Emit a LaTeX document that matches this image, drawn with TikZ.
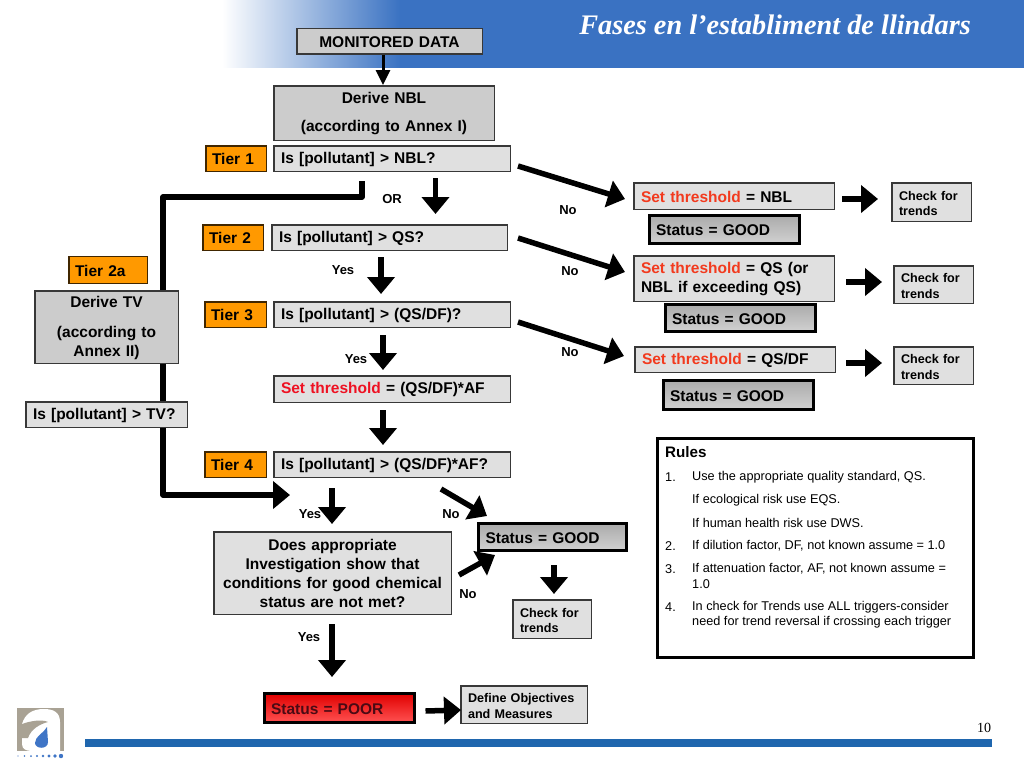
\documentclass[tikz,border=0pt]{standalone}
\usepackage{fontspec}
\setmainfont{Liberation Sans}
\newfontfamily\titlefont{Liberation Serif}
\usetikzlibrary{arrows.meta,backgrounds}
\definecolor{bandblue}{HTML}{3A72C2}
\definecolor{bandmid}{HTML}{6A94D4}
\definecolor{barblue}{HTML}{1F66AE}
\definecolor{boxedge}{HTML}{383838}
\definecolor{lightbox}{HTML}{E0E0E0}
\definecolor{midbox}{HTML}{CCCCCC}
\definecolor{tierorange}{HTML}{FF9900}
\definecolor{setred}{HTML}{F23A1E}
\definecolor{setredb}{HTML}{EE1122}
\definecolor{poortext}{HTML}{4A0A14}
\definecolor{logogrey}{HTML}{A9A294}
\definecolor{logoblue}{HTML}{3F75C6}
\newcommand{\qfont}{\fontsize{15.5}{19}\selectfont\bfseries}
\newcommand{\sfont}{\fontsize{12.6}{15.5}\selectfont\bfseries}
\tikzset{
  bx/.style 2 args={draw=boxedge,line width=1.5pt,fill=lightbox,minimum width=#1-1.5pt,minimum height=#2-1.5pt,
    text width=#1-16pt,inner xsep=7pt,inner ysep=0pt,align=left,font=\qfont,
    execute at begin node={\rule{0pt}{12.5pt}}},
  greybx/.style 2 args={bx={#1}{#2},fill=midbox,align=center},
  tierbx/.style={bx={#1}{27pt},fill=tierorange,draw=black!75!tierorange,text width=#1-14pt,inner xsep=6pt},
  checkbx/.style 2 args={bx={#1}{#2},font=\sfont},
  goodbx/.style 2 args={bx={#1}{#2},draw=black,line width=3pt,minimum width=#1-3pt,minimum height=#2-3pt,
    top color=black!33,bottom color=black!18},
  poorbx/.style 2 args={bx={#1}{#2},draw=black,line width=3pt,minimum width=#1-3pt,minimum height=#2-3pt,
    top color=red!88!black,bottom color=red!68!white},
  tag/.style={font=\fontsize{13}{15}\selectfont\bfseries,inner sep=0pt},
  bigarrow/.style={line width=5.5pt,-{Triangle[length=17pt,width=27pt]}},
  thinarrow/.style={line width=3pt,-{Triangle[length=15pt,width=14pt]}},
}
\begin{document}
\begin{tikzpicture}[x=1pt,y=-1pt]
  \useasboundingbox (0,0) rectangle (1024,768);
  % header band
  \shade[left color=white,middle color=bandmid,right color=bandblue] (222,0) rectangle (400,67.5);
  \fill[bandblue] (399.5,0) rectangle (1024,68);
  \node (title) at (775,25) [text=white,inner sep=0pt,font=\titlefont\fontsize{28.3}{32}\selectfont\bfseries\itshape] {Fases en l’establiment de llindars};
  % left column of boxes
  \node (mondata) at (389.5,41.5) [greybx={187pt}{27pt}] {MONITORED DATA};
  \node (nbl) at (384,113) [greybx={222pt}{56pt}] {Derive NBL\\[9pt](according to Annex I)};
  \node (tiera) at (236,158.5) [tierbx=62pt] {Tier 1};
  \node (qnbl) at (392,158.5) [bx={238pt}{27pt}] {Is [pollutant] > NBL?};
  \node (tierb) at (233,237.5) [tierbx=62pt] {Tier 2};
  \node (qqs) at (389.5,237.5) [bx={237pt}{27pt}] {Is [pollutant] > QS?};
  \node (tierc) at (235.5,314.5) [tierbx=63pt] {Tier 3};
  \node (qdf) at (392,314.5) [bx={238pt}{27pt}] {Is [pollutant] > (QS/DF)?};
  \node (sthr) at (392,389) [bx={238pt}{28pt}] {\textcolor{setredb}{Set threshold} = (QS/DF)*AF};
  \node (tierd) at (235.5,464.5) [tierbx=63pt] {Tier 4};
  \node (qaf) at (392,464.5) [bx={238pt}{27pt}] {Is [pollutant] > (QS/DF)*AF?};
  \node (tierx) at (108,270) [tierbx=80pt,minimum height=27pt] {Tier 2a};
  \node (tv) at (106.5,327) [greybx={145pt}{74pt}] {Derive TV\\[11pt](according to\\Annex II)};
  \node (qtv) at (106.5,414.5) [bx={163pt}{27pt}] {Is [pollutant] > TV?};
  \node (invest) at (332.5,573) [bx={239pt}{84pt},align=center] {Does appropriate\\Investigation show that\\conditions for good chemical\\status are not met?};
  \node (poor) at (339,708) [poorbx={152pt}{32pt}] {\textcolor{poortext}{Status = POOR}};
  \node (defobj) at (524,704.5) [checkbx={128pt}{39pt}] {Define Objectives\\and Measures};
  \node (goodt) at (552.5,537) [goodbx={150pt}{30pt}] {Status = GOOD};
  \node (chkt) at (552,619) [checkbx={80pt}{40pt}] {Check for\\trends};
  % right column of boxes
  \node (setn) at (734,196) [bx={202pt}{28pt}] {\textcolor{setred}{Set threshold} = NBL};
  \node (goodn) at (724,229.5) [goodbx={152pt}{31pt}] {Status = GOOD};
  \node (chkn) at (931.5,202) [checkbx={81pt}{40pt}] {Check for\\trends};
  \node (setq) at (734,278.5) [bx={202pt}{47pt}] {\textcolor{setred}{Set threshold} = QS (or\\NBL if exceeding QS)};
  \node (goodq) at (740,318) [goodbx={152pt}{30pt}] {Status = GOOD};
  \node (chkq) at (933.5,284.5) [checkbx={81pt}{39pt}] {Check for\\trends};
  \node (setd) at (735,359.5) [bx={202pt}{27pt}] {\textcolor{setred}{Set threshold} = QS/DF};
  \node (goodd) at (738,395) [goodbx={152pt}{32pt}] {Status = GOOD};
  \node (chkd) at (933.5,365.5) [checkbx={81pt}{39pt}] {Check for\\trends};
  % labels on the arrows
  \node (ortag) at (392,199) [tag] {OR};
  \node (yesa) at (343,270) [tag] {Yes};
  \node (yesb) at (356,359) [tag] {Yes};
  \node (yesc) at (310,514) [tag] {Yes};
  \node (yesd) at (309,637) [tag] {Yes};
  \node (noa) at (568,210) [tag] {No};
  \node (nob) at (570,271) [tag] {No};
  \node (noc) at (570,352) [tag] {No};
  \node (nod) at (451,514) [tag] {No};
  \node (noe) at (468,594) [tag] {No};
  % rules panel
  \node (rules) at (815.5,548) [draw=black,line width=3pt,fill=white,minimum width=316pt,minimum height=219pt] {};
  \node (ruleshead) at (665,452) [anchor=west,inner sep=0pt,font=\fontsize{15.2}{17}\selectfont\bfseries] {Rules};
  \foreach \ry/\rnum/\rtxt in {477/1./{Use the appropriate quality standard, QS.},
      500//{If ecological risk use EQS.},
      523//{If human health risk use DWS.},
      546/2./{If dilution factor, DF, not known assume = 1.0},
      569/3./{If attenuation factor, AF, not known assume =},
      584//{1.0},
      607/4./{In check for Trends use ALL triggers-consider},
      622//{need for trend reversal if crossing each trigger}} {
    \node (rnum-\ry) at (665,\ry) [anchor=west,inner sep=0pt,font=\fontsize{12.7}{14}\selectfont] {\rnum};
    \node (rtxt-\ry) at (692,\ry) [anchor=west,inner sep=0pt,font=\fontsize{12.7}{14}\selectfont] {\rtxt};
  }
  % free ends of the long line
  \coordinate (bendtop) at (163,197);
  \coordinate (joinfree) at (290,495);
  \begin{scope}[on background layer]
    \draw[bigarrow,line join=round] ([shift={(-30,9)}]qnbl.south) |- (bendtop) |- (joinfree);
  \end{scope}
  \path[thinarrow] ([xshift=-6.5pt]mondata.south) edge ([xshift=-1pt]nbl.north);
  \path[bigarrow]
    ([shift={(43.5,6)}]qnbl.south) edge ([shift={(46,-10)}]qqs.north)
    ([shift={(-8.5,6)}]qqs.south) edge ([shift={(-11,-7)}]qdf.north)
    ([shift={(-9,7)}]qdf.south) edge ([shift={(-9,-5)}]sthr.north)
    ([shift={(-9,7)}]sthr.south) edge ([shift={(-9,-6)}]qaf.north)
    ([shift={(-60,10)}]qaf.south) edge ([shift={(-0.5,-7)}]invest.north)
    ([shift={(49,11)}]qaf.south) edge ([shift={(-65.5,-6)}]goodt.north)
    ([shift={(7,2)}]invest.east) edge ([shift={(-57.5,3)}]goodt.south)
    ([shift={(1.5,13)}]goodt.south) edge ([shift={(2,-5)}]chkt.north)
    ([shift={(-0.5,9)}]invest.south) edge ([shift={(-7,-15)}]poor.north)
    ([shift={(10,3)}]poor.east) edge ([shift={(1,5.5)}]defobj.west)
    ([shift={(7,7.5)}]qnbl.east) edge ([shift={(-8,3)}]setn.west)
    ([shift={(10,0.5)}]qqs.east) edge ([shift={(-8,-6.5)}]setq.west)
    ([shift={(7,7.5)}]qdf.east) edge ([shift={(-10,-3.5)}]setd.west)
    ([shift={(7,3)}]setn.east) edge ([shift={(-13,-3)}]chkn.west)
    ([shift={(11,3.5)}]setq.east) edge ([shift={(-11,-2.5)}]chkq.west)
    ([shift={(10,3.5)}]setd.east) edge ([shift={(-11,-2.5)}]chkd.west);
  % footer
  \fill[barblue] (85,739) rectangle (992,747);
  \node (pagenum) at (984,728) [inner sep=0pt,font=\titlefont\fontsize{14}{16}\selectfont] {10};
  % logo
  \fill[logogrey] (17,708) rectangle (64,751);
  \fill[white] (60,751) -- (60,722) .. controls (60,712) and (53,709) .. (44,709)
    .. controls (32,709) and (25,714) .. (22,724) -- (22,744)
    .. controls (22,749) and (26,751) .. (32,751) -- cycle;
  \fill[logogrey] (22,724) .. controls (30,721) and (42,719) .. (48,722)
    .. controls (40,724) and (31,729) .. (28,738) -- (22,738) -- cycle;
  \fill[logoblue] (47,727) .. controls (44,733) and (35,736) .. (35,743)
    .. controls (35,749) and (48,750) .. (48,742) -- cycle;
  \foreach \dx/\dr in {18/0.6,24.5/0.8,31/1,37/1.2,43/1.4,49/1.6,55/1.8,61/2.2} {
    \fill[logoblue] (\dx,756) circle (\dr);
  }
\end{tikzpicture}
\end{document}
